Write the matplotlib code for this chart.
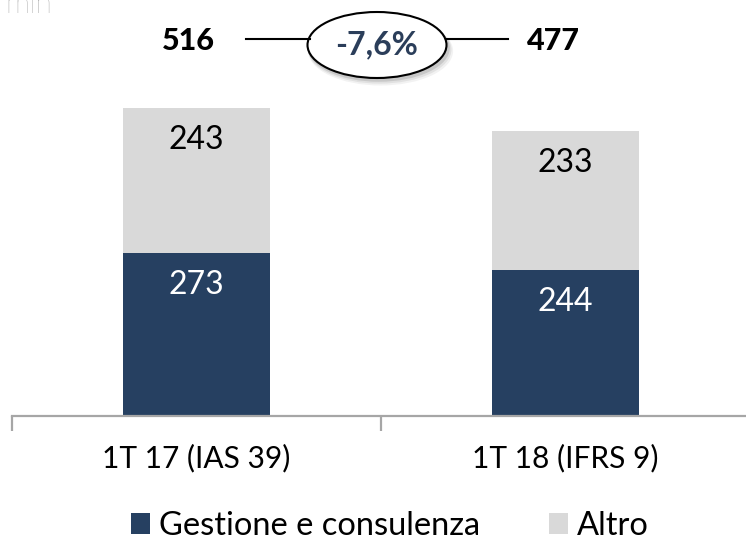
import matplotlib
matplotlib.use("Agg")
import matplotlib.pyplot as plt
from matplotlib.patches import Ellipse

plt.rcParams['font.family'] = ['Lato', 'DejaVu Sans']

categories = ["1T 17 (IAS 39)", "1T 18 (IFRS 9)"]
gestione = [273, 244]
altro = [243, 233]
totals = [516, 477]
change_label = "-7,6%"
series_names = ["Gestione e consulenza", "Altro"]
unit_label = "mln"

dark = "#264061"
light = "#D9D9D9"
axis_grey = "#A6A6A6"

W, H = 746, 542
AX_BOTTOM = 416
PX_PER_UNIT = 0.597
fig = plt.figure(figsize=(W / 100, H / 100), dpi=100)
ax = fig.add_axes([12 / W, (H - AX_BOTTOM) / H, 738 / W, AX_BOTTOM / H])

x = list(range(len(categories)))
b1 = ax.bar(x, gestione, width=0.4, color=dark, label=series_names[0], zorder=2)
b2 = ax.bar(x, altro, width=0.4, bottom=gestione, color=light, label=series_names[1], zorder=2)

ax.set_xlim(-0.5, len(categories) - 0.5)
ax.set_ylim(0, AX_BOTTOM / PX_PER_UNIT)

# labels near top of each segment
off = 32 / PX_PER_UNIT
for i in x:
    ax.text(i, gestione[i] - off, str(gestione[i]), ha='center', va='center',
            color='white', fontsize=23)
    ax.text(i, gestione[i] + altro[i] - off, str(altro[i]), ha='center', va='center',
            color='black', fontsize=23)

for s in ['top', 'right', 'left']:
    ax.spines[s].set_visible(False)
ax.spines['bottom'].set_color(axis_grey)
ax.spines['bottom'].set_linewidth(1.6)
ax.set_yticks([])
ax.set_xticks([-0.5, 0.5, 1.5])
ax.set_xticklabels([])
ax.tick_params(axis='x', which='major', length=11, color=axis_grey, width=1.6)
ax.set_xticks(x, minor=True)
ax.set_xticklabels(categories, minor=True, fontsize=21.5)
ax.tick_params(axis='x', which='minor', length=0, pad=20)

# totals and change bubble (figure pixel positions)
def fx(px):
    return px / W

def fy(py):
    return 1 - py / H

fig.text(fx(188), fy(41), str(totals[0]), ha='center', va='center', fontsize=22,
         fontweight='black', color='black')
fig.text(fx(553), fy(41), str(totals[1]), ha='center', va='center', fontsize=22,
         fontweight='black', color='black')

fig.add_artist(plt.Line2D([fx(246), fx(310)], [fy(39), fy(39)],
                          transform=fig.transFigure, color='black', lw=1.5))
fig.add_artist(plt.Line2D([fx(446), fx(508)], [fy(39), fy(39)],
                          transform=fig.transFigure, color='black', lw=1.5))
for k, a in [(6, 0.10), (4.5, 0.15), (3, 0.25)]:
    fig.add_artist(Ellipse((fx(377 + k * 0.6), fy(45 + k)), (139 + k) / W, (66 + k * 0.5) / H,
                           transform=fig.transFigure, facecolor='#808080',
                           edgecolor='none', alpha=a))
ell = Ellipse((fx(377), fy(45)), 139 / W, 66 / H, transform=fig.transFigure,
              facecolor='white', edgecolor='black', lw=1.5)
fig.add_artist(ell)
fig.text(fx(377), fy(45), change_label, ha='center', va='center', fontsize=23,
         fontweight='bold', color='#2B3E5A')

fig.text(fx(5), fy(13), unit_label, ha='left', va='baseline', fontsize=22,
         color='#8C8C8C', fontweight='light')

leg = fig.legend(handles=[b1, b2], loc='center', bbox_to_anchor=(fx(390), fy(526)),
                 ncol=2, frameon=False, fontsize=23.5, handlelength=0.58, handleheight=0.58,
                 handletextpad=0.28, columnspacing=2.1, borderpad=0)

fig.savefig("out.png", dpi=100)
